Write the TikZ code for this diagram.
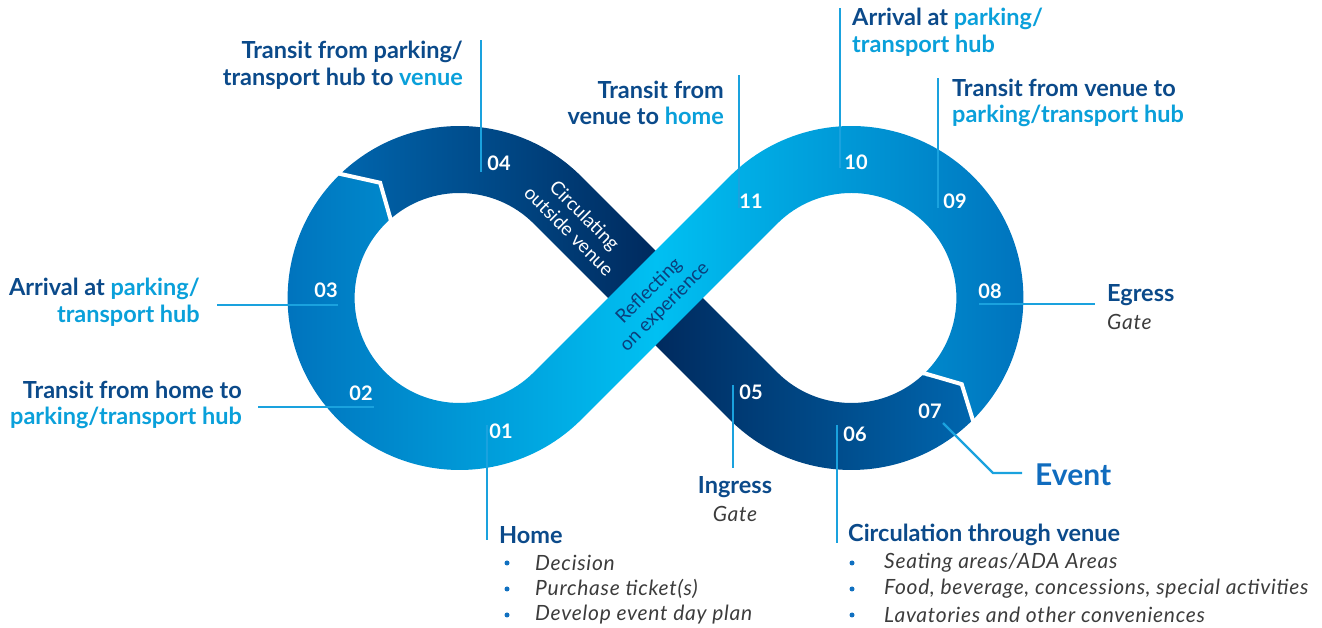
\documentclass[tikz,border=0pt]{standalone}
\usepackage{fontspec}
\setmainfont{Lato}
\newfontfamily\itemfont[LetterSpace=3.5]{Lato}
\definecolor{navy}{HTML}{0B4A8A}
\definecolor{hl}{HTML}{0AA0DA}
\definecolor{leader}{HTML}{1AA2DE}
\definecolor{lightA}{HTML}{0070BB}
\definecolor{lightB}{HTML}{00C0F2}
\definecolor{darkA}{HTML}{0066AE}
\definecolor{darkB}{HTML}{002A5E}
\definecolor{graytxt}{HTML}{3C3C3C}
\definecolor{bullet}{HTML}{1070C0}
\definecolor{eventc}{HTML}{106CBE}
\definecolor{reflc}{HTML}{0B3F7C}
\begin{document}
\begin{tikzpicture}[x=1pt,y=1pt,
  lbl/.style={font=\fontsize{23.5}{26.5}\selectfont\bfseries, text=navy, inner sep=0pt},
  num/.style={font=\fontsize{20}{22}\selectfont\bfseries, text=white, inner sep=0pt},
  item/.style={font=\itemfont\fontsize{21}{26}\selectfont\itshape, text=graytxt, inner sep=0pt, anchor=west},
  subl/.style={font=\itemfont\fontsize{21}{26}\selectfont\itshape, text=graytxt, inner sep=0pt},
  leadline/.style={draw=leader, line width=2.4pt},
  chev/.style={draw=white, line width=4pt, line join=miter},
  bandtxt/.style={font=\fontsize{19}{22}\selectfont, inner sep=0pt, align=center},
  dotb/.style={circle, fill=bullet, inner sep=0pt, minimum size=5pt}
]
\path[use as bounding box] (0,0) rectangle (1322,628);
\coordinate (CL) at (459.6,330);
\coordinate (CR) at (851.4,330);

% dark band
\path[left color=darkA, right color=darkA, middle color=darkB]
  ([shift={(134.7:172)}]CL) arc[start angle=134.7, end angle=45, radius=172]
  -- ([shift={(225:105)}]CR) arc[start angle=225, end angle=312.5, radius=105]
  -- ([shift={(322:140)}]CR) -- ([shift={(314.2:172)}]CR)
  arc[start angle=314.2, end angle=225, radius=172]
  -- ([shift={(45:105)}]CL) arc[start angle=45, end angle=132.5, radius=105]
  -- ([shift={(124.6:140)}]CL) -- cycle;

% light band
\path[left color=lightA, right color=lightA, middle color=lightB]
  ([shift={(-45.8:172)}]CR) arc[start angle=-45.8, end angle=135, radius=172]
  -- ([shift={(-45:105)}]CL) arc[start angle=-45, end angle=-227.5, radius=105]
  -- ([shift={(-235.4:140)}]CL) -- ([shift={(-225.3:172)}]CL)
  arc[start angle=-225.3, end angle=-45, radius=172]
  -- ([shift={(135:105)}]CR) arc[start angle=135, end angle=-47.5, radius=105]
  -- ([shift={(-38:140)}]CR) -- cycle;

% segment breaks
\draw[chev] ([shift={(132.5:100)}]CL) -- ([shift={(124.6:140)}]CL) -- ([shift={(134.7:176)}]CL);
\draw[chev] ([shift={(-47.5:100)}]CR) -- ([shift={(-38:140)}]CR) -- ([shift={(-45.8:176)}]CR);

% band texts
\node[bandtxt, text=white, rotate=-45] (circ) at (577,405) {Circulating\\outside venue};
\node[bandtxt, text=reflc, rotate=45] (refl) at (657,329) {Reflecting\\on experience};

% numbers
\node[num] (n01) at (501,197) {01};
\node[num] (n02) at (361,235) {02};
\node[num] (n03) at (326,338) {03};
\node[num] (n04) at (499,465) {04};
\node[num] (n05) at (751,236) {05};
\node[num] (n06) at (855,194) {06};
\node[num] (n07) at (930,217) {07};
\node[num] (n08) at (990,337) {08};
\node[num] (n09) at (955,427) {09};
\node[num] (n10) at (856,466) {10};
\node[num] (n11) at (751,427) {11};

% leader lines
\coordinate (l01a) at (487,203); \coordinate (l01b) at (487,88);
\coordinate (l02a) at (374,221); \coordinate (l02b) at (258,221);
\coordinate (l03a) at (338,323); \coordinate (l03b) at (217,323);
\coordinate (l04a) at (481,456); \coordinate (l04b) at (481,588);
\coordinate (l05a) at (733,243); \coordinate (l05b) at (733,160);
\coordinate (l06a) at (837,203); \coordinate (l06b) at (837,85);
\coordinate (l07a) at (943,205); \coordinate (l07m) at (993,155); \coordinate (l07b) at (1022,155);
\coordinate (l08a) at (979,324); \coordinate (l08b) at (1095,324);
\coordinate (l09a) at (938,420); \coordinate (l09b) at (938,550);
\coordinate (l10a) at (840,460); \coordinate (l10b) at (840,620);
\coordinate (l11a) at (739,420); \coordinate (l11b) at (739,553);
\draw[leadline] (l01a) -- (l01b);
\draw[leadline] (l02a) -- (l02b);
\draw[leadline] (l03a) -- (l03b);
\draw[leadline] (l04a) -- (l04b);
\draw[leadline] (l05a) -- (l05b);
\draw[leadline] (l06a) -- (l06b);
\draw[leadline] (l07a) -- (l07m) -- (l07b);
\draw[leadline] (l08a) -- (l08b);
\draw[leadline] (l09a) -- (l09b);
\draw[leadline] (l10a) -- (l10b);
\draw[leadline] (l11a) -- (l11b);

% labels
\node[lbl, anchor=east, align=right] (t04) at (463,563) {Transit from parking/\\transport hub to \textcolor{hl}{venue}};
\node[lbl, anchor=east, align=right] (t03) at (200,326) {Arrival at \textcolor{hl}{parking/}\\\textcolor{hl}{transport hub}};
\node[lbl, anchor=east, align=right] (t02) at (242,223) {Transit from home to\\\textcolor{hl}{parking/transport hub}};
\node[lbl, anchor=east, align=right] (t11) at (724,525) {Transit from\\venue to \textcolor{hl}{home}};
\node[lbl, anchor=west, align=left] (t10) at (852,596) {Arrival at \textcolor{hl}{parking/}\\\textcolor{hl}{transport hub}};
\node[lbl, anchor=west, align=left] (t09) at (952,525) {Transit from venue to\\\textcolor{hl}{parking/transport hub}};
\node[lbl, anchor=west] (t08) at (1107,333) {Egress};
\node[subl, anchor=west] (t08g) at (1107,306) {Gate};
\node[font=\fontsize{30}{32}\selectfont\bfseries, text=eventc, anchor=west, inner sep=0pt] (t07) at (1035,153) {Event};
\node[lbl] (t05) at (735,141) {Ingress};
\node[subl] (t05g) at (735,114) {Gate};

\node[lbl, anchor=west] (t01) at (499,93) {Home};
\node[dotb] (b11) at (507,65) {};
\node[dotb] (b12) at (507,39) {};
\node[dotb] (b13) at (507,13) {};
\node[item] (i11) at (535,65) {Decision};
\node[item] (i12) at (535,39) {Purchase ticket(s)};
\node[item] (i13) at (535,13) {Develop event day plan};

\node[lbl, anchor=west] (t06) at (848,93) {Circulation through venue};
\node[dotb] (b21) at (852,65) {};
\node[dotb] (b22) at (852,39) {};
\node[dotb] (b23) at (852,13) {};
\node[item] (i21) at (884,65) {Seating areas/ADA Areas};
\node[item] (i22) at (884,39) {Food, beverage, concessions, special activities};
\node[item] (i23) at (884,13) {Lavatories and other conveniences};
\end{tikzpicture}
\end{document}
